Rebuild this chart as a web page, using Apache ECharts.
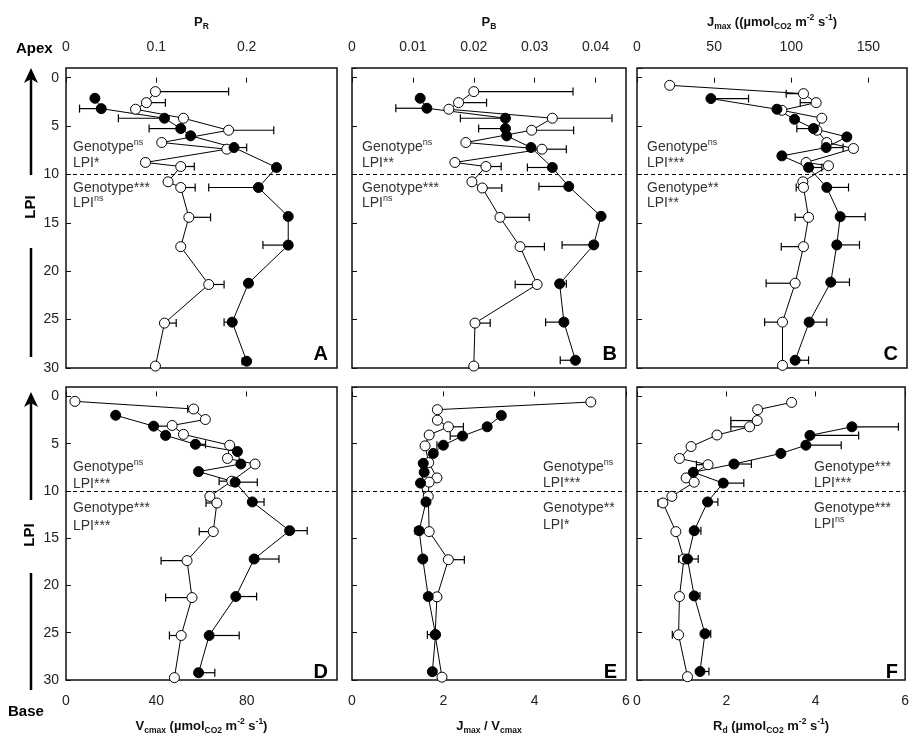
<!DOCTYPE html>
<html><head><meta charset="utf-8">
<script src="https://cdn.jsdelivr.net/npm/echarts@6/dist/echarts.min.js"></script>
<style>html,body{margin:0;padding:0;background:#fff}#c{width:912px;height:736px}</style>
</head><body><div id="c"></div>
<script>
// [value, LPI, signed SE (null = no bar)]
const openA = [[0.099,1.44,0.081],[0.089,2.58,0.021],[0.077,3.26,null],[0.130,4.19,null],[0.180,5.43,0.050],[0.106,6.70,null],[0.178,7.39,null],[0.088,8.76,null],[0.127,9.18,0.015],[0.113,10.76,null],[0.127,11.35,0.016],[0.136,14.43,0.024],[0.127,17.46,null],[0.158,21.37,0.017],[0.109,25.36,0.013],[0.099,29.8,null]];
const filledA = [[0.032,2.13,null],[0.039,3.20,-0.024],[0.109,4.19,-0.051],[0.127,5.26,-0.035],[0.138,6.01,null],[0.186,7.22,0.014],[0.233,9.28,null],[0.213,11.35,-0.055],[0.246,14.34,null],[0.246,17.30,-0.028],[0.202,21.24,null],[0.184,25.26,-0.009],[0.200,29.30,-0.005]];
const openB = [[0.0200,1.44,0.0163],[0.0175,2.58,0.0046],[0.0159,3.26,null],[0.0329,4.19,0.0098],[0.0295,5.43,0.0069],[0.0187,6.70,null],[0.0312,7.39,0.0040],[0.0169,8.76,null],[0.0220,9.18,0.0025],[0.0197,10.76,null],[0.0214,11.40,0.0032],[0.0243,14.43,0.0048],[0.0276,17.46,0.0040],[0.0304,21.37,-0.0036],[0.0202,25.36,0.0025],[0.0200,29.80,null]];
const filledB = [[0.0112,2.13,null],[0.0123,3.16,-0.0051],[0.0252,4.19,-0.0074],[0.0252,5.26,-0.0044],[0.0254,6.01,null],[0.0294,7.22,null],[0.0329,9.28,-0.0041],[0.0356,11.24,-0.0049],[0.0409,14.33,null],[0.0397,17.28,-0.0052],[0.0341,21.30,0.0011],[0.0348,25.26,-0.0030],[0.0367,29.20,-0.0025]];
const openC = [[21.2,0.79,null],[107.9,1.65,-11.2],[116.1,2.58,-10.3],[93.9,3.37,null],[119.8,4.19,null],[116.6,5.43,null],[123.0,6.70,null],[140.3,7.32,null],[109.6,8.76,null],[124.1,9.10,null],[107.5,10.76,null],[107.9,11.34,-4.7],[111.2,14.43,-8.7],[107.9,17.46,-14.4],[102.5,21.24,-18.8],[94.3,25.26,-11.6],[94.3,29.73,null]];
const filledC = [[47.9,2.16,24.4],[90.7,3.26,null],[102.1,4.30,null],[114.4,5.26,-10.8],[136.0,6.12,null],[122.6,7.22,11.0],[93.9,8.08,null],[111.2,9.28,8.6],[123.0,11.34,14.1],[131.7,14.36,16.2],[129.5,17.28,14.7],[125.6,21.13,12.1],[111.6,25.26,11.4],[102.5,29.20,8.7]];
const openD = [[3.96,0.52,null],[56.5,1.33,-2.6],[61.7,2.44,null],[47.0,3.07,null],[52.0,4.01,null],[72.5,5.16,null],[71.5,6.56,null],[83.7,7.15,null],[73.4,8.96,-5.6],[63.7,10.57,null],[66.8,11.27,-4.8],[65.2,14.30,-6.2],[53.6,17.37,-11.5],[55.8,21.28,-11.7],[51.0,25.29,-5.2],[48.0,29.75,null]];
const filledD = [[22.0,1.99,null],[38.8,3.14,8.0],[44.1,4.12,null],[57.3,5.06,4.5],[75.9,5.83,null],[77.4,7.15,null],[58.7,7.95,null],[74.9,9.07,9.8],[82.5,11.16,5.2],[99.0,14.20,7.8],[83.3,17.20,11.0],[75.2,21.17,9.2],[63.4,25.29,13.3],[58.7,29.23,7.2]];
const openE = [[5.23,0.59,null],[1.87,1.40,null],[1.87,2.51,null],[2.11,3.21,0.33],[1.69,4.08,null],[1.60,5.23,null],[1.68,7.00,null],[1.86,8.62,null],[1.69,9.07,null],[1.67,10.57,null],[1.69,14.30,null],[2.11,17.27,0.35],[1.86,21.20,null],[1.82,25.20,null],[1.97,29.70,null]];
const filledE = [[3.27,2.02,null],[2.96,3.21,null],[2.42,4.19,-0.27],[2.00,5.16,-0.14],[1.78,6.03,null],[1.56,7.08,null],[1.58,8.02,null],[1.50,9.17,null],[1.62,11.16,null],[1.47,14.20,-0.09],[1.55,17.20,null],[1.67,21.17,null],[1.83,25.20,-0.18],[1.76,29.12,null]];
const openF = [[3.46,0.63,null],[2.70,1.40,null],[2.69,2.55,-0.59],[2.52,3.21,-0.42],[1.79,4.08,null],[1.21,5.30,null],[0.95,6.56,null],[1.59,7.22,-0.26],[1.10,8.62,null],[1.28,9.07,null],[0.78,10.57,null],[0.58,11.27,-0.11],[0.87,14.30,null],[1.05,17.20,-0.12],[0.95,21.17,null],[0.93,25.22,-0.14],[1.13,29.65,null]];
const filledF = [[4.81,3.21,1.04],[3.87,4.12,1.09],[3.78,5.16,0.79],[3.22,6.03,null],[2.17,7.15,0.39],[1.26,8.02,null],[1.93,9.17,0.46],[1.58,11.16,0.23],[1.28,14.20,0.15],[1.13,17.20,0.24],[1.28,21.10,0.13],[1.52,25.10,0.13],[1.41,29.10,0.20]];

const panelLetters = ['A','B','C','D','E','F'];
const xMax = [0.3, 0.045, 175, 120, 6, 6];
const xInterval = [0.1, 0.01, 50, 40, 2, 2];
const showMaxX = [false, false, false, false, true, true];
const LPI_MIN = -1, LPI_MAX = 30, LPI_SPLIT = 6, LPI_DIVIDE = 10;
const statsUpper = [['Genotype{s|ns}','LPI*'],['Genotype{s|ns}','LPI**'],['Genotype{s|ns}','LPI***'],['Genotype{s|ns}','LPI***'],['Genotype{s|ns}','LPI***'],['Genotype***','LPI***']];
const statsLower = [['Genotype***','LPI{s|ns}'],['Genotype***','LPI{s|ns}'],['Genotype**','LPI**'],['Genotype***','LPI***'],['Genotype**','LPI*'],['Genotype***','LPI{s|ns}']];
const axisNames = [
 '{b|P}{sb|R}',
 '{b|P}{sb|B}',
 '{b|J}{sb|max}{b| ((µmol}{sb|CO2}{b| m}{sp|-2}{b| s}{sp|-1}{b|)}',
 '{b|V}{sb|cmax}{b| (µmol}{sb|CO2}{b| m}{sp|-2}{b| s}{sp|-1}{b|)}',
 '{b|J}{sb|max}{b| / V}{sb|cmax}',
 '{b|R}{sb|d}{b| (µmol}{sb|CO2}{b| m}{sp|-2}{b| s}{sp|-1}{b|)}'
];
const openData = [openA, openB, openC, openD, openE, openF];
const filledData = [filledA, filledB, filledC, filledD, filledE, filledF];

const FONT = 'Liberation Sans, Arial, sans-serif';
const grids = [
 {left:66, top:68, width:271, height:300},
 {left:352, top:68, width:274, height:300},
 {left:637, top:68, width:270, height:300},
 {left:66, top:387, width:271, height:299},
 {left:352, top:387, width:274, height:299},
 {left:637, top:387, width:270, height:299}
];
const nameRich = {
 b:{fontSize:13, fontWeight:'bold', fontFamily:FONT, color:'#111', lineHeight:18},
 sb:{fontSize:8.5, fontWeight:'bold', fontFamily:FONT, color:'#111', lineHeight:9, verticalAlign:'bottom'},
 sp:{fontSize:8.5, fontWeight:'bold', fontFamily:FONT, color:'#111', lineHeight:9, verticalAlign:'top'}
};

const xAxes = grids.map((g,i)=>({
 gridIndex:i, type:'value', min:0, max:xMax[i], interval:xInterval[i],
 position: i<3 ? 'top' : 'bottom',
 axisLine:{show:false}, splitLine:{show:false},
 axisTick:{show:true, inside:true, length:5, lineStyle:{color:'#111', width:1}},
 axisLabel:{show:true, fontSize:14, fontFamily:FONT, color:'#222', margin:14, showMaxLabel:showMaxX[i]},
 name:axisNames[i], nameLocation:'middle', nameGap:37,
 nameTextStyle:{rich:nameRich}
}));
const yAxes = grids.map((g,i)=>({
 gridIndex:i, type:'value', min:LPI_MIN, max:LPI_MAX, splitNumber:LPI_SPLIT, inverse:true,
 axisLine:{show:false}, splitLine:{show:false},
 axisTick:{show:true, inside:true, length:5, lineStyle:{color:'#111', width:1}},
 axisLabel:{show:(i===0||i===3), fontSize:14, fontFamily:FONT, color:'#222', margin:7, showMinLabel:false,
   formatter:v=> v<0 ? '' : String(v)}
}));

function renderErr(params, api){
 const x = api.value(0), y = api.value(1), e = api.value(2);
 const p0 = api.coord([x,y]); const p1 = api.coord([x+e,y]);
 const st = {stroke:'#000', lineWidth:1.2};
 return {type:'group', children:[
  {type:'line', shape:{x1:p0[0],y1:p0[1],x2:p1[0],y2:p1[1]}, style:st},
  {type:'line', shape:{x1:p1[0],y1:p1[1]-4,x2:p1[0],y2:p1[1]+4}, style:st}
 ]};
}

const series = [];
for (let i=0;i<6;i++){
 const sets = [{d:filledData[i], fill:'#000', z:5}, {d:openData[i], fill:'#fff', z:4}];
 sets.forEach((s,k)=>{
  const d = s.d.slice().sort((p,q)=>p[1]-q[1]);
  series.push({type:'custom', xAxisIndex:i, yAxisIndex:i, renderItem:renderErr, clip:false,
    data:d.filter(r=>r[2]!==null), encode:{x:0,y:1}, z:1, silent:true, animation:false});
  const ln = {type:'line', xAxisIndex:i, yAxisIndex:i, data:d.map(r=>[r[0],r[1]]), symbol:'none',
    lineStyle:{color:'#000', width:1}, z:2, silent:true, animation:false};
  if (k===0) ln.markLine = {silent:true, symbol:'none', label:{show:false},
    lineStyle:{type:[4,3], color:'#000', width:1}, data:[{yAxis:LPI_DIVIDE}], animation:false};
  series.push(ln);
  series.push({type:'scatter', xAxisIndex:i, yAxisIndex:i, data:d.map(r=>[r[0],r[1]]), symbol:'circle', symbolSize:10,
    itemStyle:{color:s.fill, borderColor:'#000', borderWidth:1, opacity:1}, z:s.z, silent:true, animation:false});
 });
}

const noteRich = {
 n:{fontSize:14, fontFamily:FONT, color:'#333', lineHeight:18},
 s:{fontSize:9, fontFamily:FONT, color:'#333', lineHeight:10, verticalAlign:'top'}
};
function note(x,y,t){
 return {type:'text', x:x, y:y, silent:true, style:{text:'{n|'+t.replace(/\{s\|/g,'}{s|').replace(/\}(?=[^{]*$)/,'}')+'}', rich:noteRich, textVerticalAlign:'middle'}};
}
function noteText(x,y,t){
 // split t into plain and superscript tokens
 const parts = t.split(/(\{s\|[^}]*\})/).filter(Boolean).map(p=> p.startsWith('{s|') ? p : '{n|'+p+'}').join('');
 return {type:'text', x:x, y:y, silent:true, z:10, style:{text:parts, rich:noteRich, textVerticalAlign:'middle', fill:'#333'}};
}
const notePos = [
 [73,[147,163,188,203]], [362,[147,163,188,203]], [647,[147,163,188,203]],
 [73,[467,484,508,526]], [543,[467,483,508,525]], [814,[467,483,508,524]]
];
const graphics = [];
for (let i=0;i<6;i++){
 const [x, ys] = notePos[i];
 graphics.push(noteText(x, ys[0], statsUpper[i][0]));
 graphics.push(noteText(x, ys[1], statsUpper[i][1]));
 graphics.push(noteText(x, ys[2], statsLower[i][0]));
 graphics.push(noteText(x, ys[3], statsLower[i][1]));
 const g = grids[i];
 graphics.push({type:'text', x:g.left+g.width-9, y:g.top+g.height-14, silent:true, z:10,
   style:{text:panelLetters[i], font:'bold 20px '+FONT, fill:'#000', textAlign:'right', textVerticalAlign:'middle'}});
}
const black = '#000';
function vline(x,y1,y2){ return {type:'line', silent:true, shape:{x1:x,y1:y1,x2:x,y2:y2}, style:{stroke:black, lineWidth:2.5}}; }
function arrowHead(x,y){ return {type:'polygon', silent:true, shape:{points:[[x,y],[x+7,y+15],[x,y+11],[x-7,y+15]]}, style:{fill:black}}; }
function lpiLabel(x,y){ return {type:'text', x:x, y:y, rotation:Math.PI/2, silent:true,
  style:{text:'LPI', font:'bold 15px '+FONT, fill:black, textAlign:'center', textVerticalAlign:'middle'}}; }
graphics.push({type:'text', x:16, y:49, silent:true, style:{text:'Apex', font:'bold 15px '+FONT, fill:black, textVerticalAlign:'middle'}});
graphics.push(arrowHead(31,68), vline(31,76,175), lpiLabel(31,207), vline(31,248,357));
graphics.push(arrowHead(31,392), vline(31,400,500), lpiLabel(30,535), vline(31,573,690));
graphics.push({type:'text', x:8, y:712, silent:true, style:{text:'Base', font:'bold 15px '+FONT, fill:black, textVerticalAlign:'middle'}});

const chart = echarts.init(document.getElementById('c'), null, {renderer:'canvas'});
chart.setOption({
 animation:false,
 backgroundColor:'#fff',
 grid: grids.map(g=>Object.assign({show:true, borderColor:'#111', borderWidth:1.5, backgroundColor:'transparent'}, g)),
 xAxis:xAxes, yAxis:yAxes, series:series, graphic:graphics
});
</script></body></html>
